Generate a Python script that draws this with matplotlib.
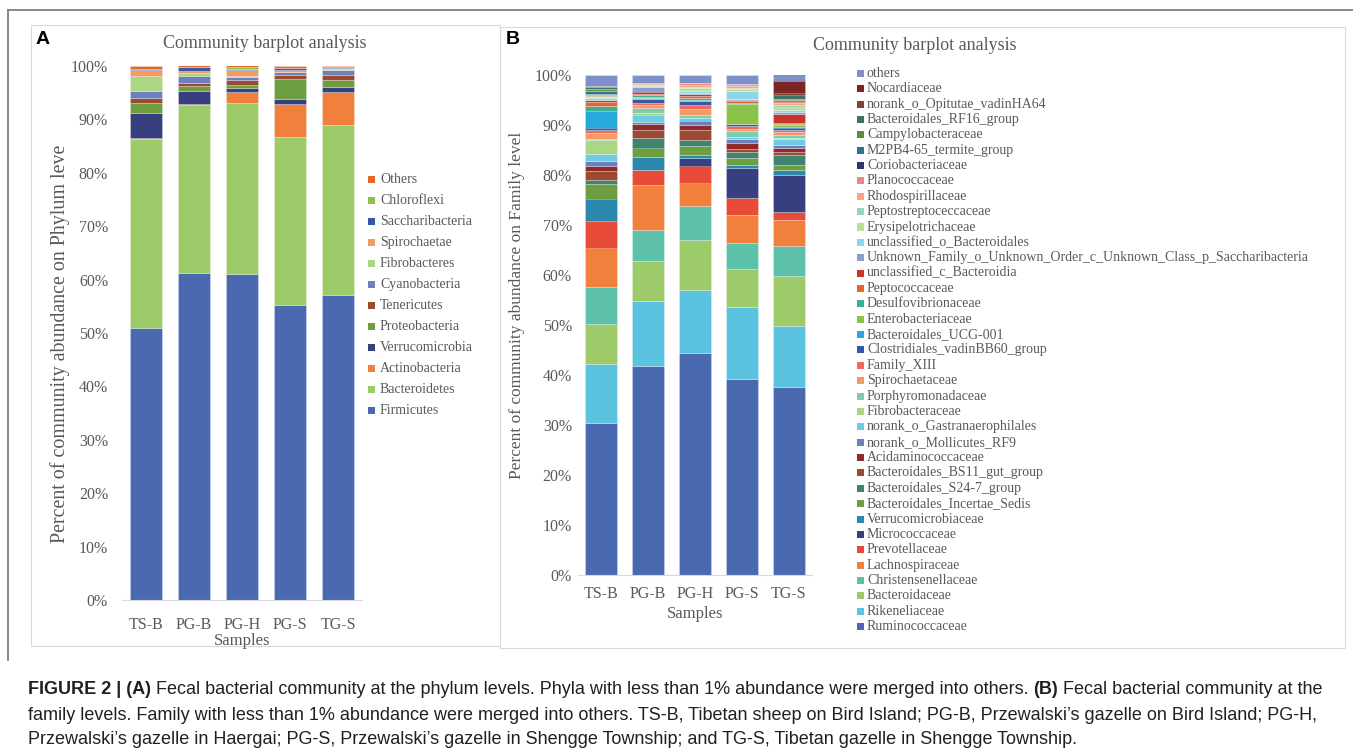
import numpy as np
import matplotlib
matplotlib.use("Agg")
import matplotlib.pyplot as plt
from matplotlib.patches import Rectangle
from matplotlib.lines import Line2D

plt.rcParams['font.family'] = ['Liberation Serif', 'DejaVu Serif']

samples = ["TS-B", "PG-B", "PG-H", "PG-S", "TG-S"]

# panel A: phylum level, bottom -> top
phyla = ["Firmicutes", "Bacteroidetes", "Actinobacteria", "Verrucomicrobia", "Proteobacteria",
         "Tenericutes", "Cyanobacteria", "Fibrobacteres", "Spirochaetae", "Saccharibacteria",
         "Chloroflexi", "Others"]
phyla_colors = ["#4A69B0", "#9DCB6A", "#F2803D", "#373F7E", "#6D9F41", "#9B4A32",
                "#6D80BE", "#ABD683", "#F59A62", "#3857A8", "#8BC34A", "#E2672A"]
a_ts_b = [50.9, 35.4, 0.2, 4.7, 1.9, 1.0, 1.2, 2.9, 1.0, 0.3, 0.0, 0.5]
a_pg_b = [61.3, 31.4, 0.1, 2.5, 0.9, 0.6, 1.4, 0.4, 0.4, 0.8, 0.0, 0.3]
a_pg_h = [61.1, 32.0, 2.0, 0.7, 0.6, 1.0, 0.5, 0.2, 1.1, 0.3, 0.4, 0.2]
a_pg_s = [55.3, 31.4, 6.2, 1.0, 3.7, 0.8, 0.4, 0.1, 0.4, 0.4, 0.0, 0.3]
a_tg_s = [57.2, 31.8, 6.1, 0.9, 1.3, 1.0, 0.9, 0.3, 0.2, 0.2, 0.0, 0.1]

# panel B: family level, bottom -> top
families = ["Ruminococcaceae", "Rikeneliaceae", "Bacteroidaceae", "Christensenellaceae",
            "Lachnospiraceae", "Prevotellaceae", "Micrococcaceae", "Verrucomicrobiaceae",
            "Bacteroidales_Incertae_Sedis", "Bacteroidales_S24-7_group",
            "Bacteroidales_BS11_gut_group", "Acidaminococcaceae", "norank_o_Mollicutes_RF9",
            "norank_o_Gastranaerophilales", "Fibrobacteraceae", "Porphyromonadaceae",
            "Spirochaetaceae", "Family_XIII", "Clostridiales_vadinBB60_group",
            "Bacteroidales_UCG-001", "Enterobacteriaceae", "Desulfovibrionaceae",
            "Peptococcaceae", "unclassified_c_Bacteroidia",
            "Unknown_Family_o_Unknown_Order_c_Unknown_Class_p_Saccharibacteria",
            "unclassified_o_Bacteroidales", "Erysipelotrichaceae", "Peptostreptoceccaceae",
            "Rhodospirillaceae", "Planococcaceae", "Coriobacteriaceae", "M2PB4-65_termite_group",
            "Campylobacteraceae", "Bacteroidales_RF16_group", "norank_o_Opitutae_vadinHA64",
            "Nocardiaceae", "others"]
family_colors = ["#4A69B0", "#5BC2E0", "#9DCB6A", "#5DC0A8", "#F2803D", "#E84B37", "#373F7E",
                 "#2A87AE", "#6D9F41", "#3E8470", "#9B4A32", "#8F2A2A", "#6D80BE", "#6FCCE4",
                 "#ABD683", "#7FCCB5", "#F59A62", "#EE6B5E", "#3857A8", "#27A9DB", "#8BC34A",
                 "#3DAE91", "#E2672A", "#C9352B", "#8A9ED0", "#8BD6EB", "#BCDF98", "#95D5C3",
                 "#F7A77D", "#EB877E", "#2D3570", "#2B7592", "#5E8C3B", "#3B7461", "#83432D",
                 "#7A2424", "#7F8FC9"]
b_ts_b = [30.5, 11.8, 8.0, 7.3, 7.9, 5.4, 0.0, 4.4, 3.0, 0.8, 1.7, 1.1, 1.0, 1.3, 2.8, 0.3,
          1.2, 0.6, 0.4, 3.4, 0.0, 0.9, 0.8, 0.4, 0.1, 0.3, 0.3, 0.2, 0.2, 0.1, 0.1, 0.5,
          0.4, 0.5, 0.1, 0.0, 2.2]
b_pg_b = [41.8, 13.1, 8.0, 6.2, 8.9, 3.1, 0.0, 2.5, 1.9, 1.9, 1.7, 1.1, 0.5, 1.4, 0.3, 1.1,
          0.5, 0.5, 0.8, 0.1, 0.2, 0.4, 0.3, 0.4, 0.9, 0.2, 0.2, 0.2, 0.1, 0.1, 0.0, 0.0,
          0.0, 0.0, 0.0, 0.0, 1.6]
b_pg_h = [44.5, 12.6, 10.0, 6.8, 4.6, 3.4, 1.6, 0.6, 1.7, 1.3, 1.9, 1.0, 0.9, 0.5, 0.1, 0.6,
          1.1, 0.9, 0.8, 0.1, 0.1, 0.3, 0.5, 0.3, 0.2, 0.5, 0.5, 0.3, 0.3, 0.4, 0.0, 0.0,
          0.0, 0.0, 0.0, 0.0, 1.7]
b_pg_s = [39.3, 14.4, 7.6, 5.2, 5.5, 3.5, 5.9, 0.7, 1.3, 1.3, 0.5, 1.3, 0.7, 0.5, 0.0, 1.1,
          0.5, 0.5, 0.5, 0.0, 3.9, 0.2, 0.4, 0.2, 0.2, 1.5, 0.5, 0.2, 0.3, 0.3, 0.1, 0.1,
          0.0, 0.0, 0.0, 0.0, 1.8]
b_tg_s = [37.7, 12.2, 10.0, 6.0, 5.1, 1.6, 7.5, 0.9, 1.1, 2.0, 0.5, 0.8, 0.7, 1.1, 0.2, 0.7,
          0.5, 0.5, 0.4, 0.1, 0.4, 0.2, 0.3, 1.7, 0.5, 0.3, 0.7, 0.3, 0.5, 0.4, 0.1, 0.1,
          0.1, 0.9, 0.4, 2.4, 1.2]

W, H = 1353, 755
GRAY = "#595959"


def fx(x):
    return x / W


def fy(y):
    return 1 - y / H


def stacked(ax, cols, names, colors, width):
    data = np.array(cols).T  # rows = taxa
    bottom = np.zeros(len(samples))
    x = np.arange(len(samples))
    for vals, name, c in zip(data, names, colors):
        ax.bar(x, vals, width, bottom=bottom, color=c, label=name,
               edgecolor=(1, 1, 1, 0.45), linewidth=0.4)
        bottom += vals
    ax.set_xlim(-0.5, len(samples) - 0.5)
    ax.set_ylim(0, 100)
    ax.set_xticks(x)
    ax.set_xticklabels(samples, fontsize=11.5, color=GRAY)
    ax.set_yticks(np.arange(0, 101, 10))
    ax.set_yticklabels([f"{v}%" for v in range(0, 101, 10)], fontsize=11.5, color=GRAY)
    for s in ["top", "right", "left"]:
        ax.spines[s].set_visible(False)
    ax.spines["bottom"].set_color("#D9D9D9")
    ax.tick_params(length=0)


def legend(fig, names, colors, x_sq, x_txt, y_top, pitch, sq, fs):
    for i, (name, c) in enumerate(zip(names[::-1], colors[::-1])):
        yc = y_top + i * pitch
        fig.add_artist(Rectangle((fx(x_sq), fy(yc + sq / 2)), sq / W, sq / H,
                                 transform=fig.transFigure, color=c, lw=0))
        fig.text(fx(x_txt), fy(yc), name, fontsize=fs, color=GRAY, va="center", ha="left")


fig = plt.figure(figsize=(W / 100, H / 100), dpi=100)

# outer frame lines and panel boxes
fig.add_artist(Line2D([fx(8), fx(1353)], [fy(10), fy(10)], color="#808080", lw=1.3,
                      transform=fig.transFigure))
fig.add_artist(Line2D([fx(8), fx(8)], [fy(10), fy(660)], color="#808080", lw=1.3,
                      transform=fig.transFigure))
fig.add_artist(Rectangle((fx(31), fy(646)), (500 - 31) / W, (646 - 25) / H, fill=False,
                         ec="#D9D9D9", lw=0.8, transform=fig.transFigure))
fig.add_artist(Rectangle((fx(500), fy(648)), (1345 - 500) / W, (648 - 27) / H, fill=False,
                         ec="#D9D9D9", lw=0.8, transform=fig.transFigure))

# panel A
axA = fig.add_axes([fx(122), fy(600), (362 - 122) / W, (600 - 66) / H])
stacked(axA, [a_ts_b, a_pg_b, a_pg_h, a_pg_s, a_tg_s], phyla, phyla_colors, 0.667)
axA.tick_params(axis="x", pad=12)
axA.tick_params(axis="y", pad=10)
fig.text(fx(242), fy(641), "Samples", fontsize=12, color=GRAY, ha="center", va="center")
fig.text(fx(60), fy(344), "Percent of community abundance on Phylum leve", fontsize=14.4,
         color=GRAY, rotation=90, ha="center", va="center")
fig.text(fx(265), fy(44), "Community barplot analysis", fontsize=13, color=GRAY,
         ha="center", va="center")
legend(fig, phyla, phyla_colors, 368, 380, 179.3, 21.04, 7, 10)
fig.text(fx(36), fy(40), "A", fontsize=14, fontweight="bold", family="Liberation Sans",
         ha="left", va="center")

# panel B
axB = fig.add_axes([fx(577.5), fy(575), 235 / W, 500 / H])
stacked(axB, [b_ts_b, b_pg_b, b_pg_h, b_pg_s, b_tg_s], families, family_colors, 0.68)
axB.tick_params(axis="x", pad=8)
axB.tick_params(axis="y", pad=4)
fig.text(fx(695), fy(614), "Samples", fontsize=12, color=GRAY, ha="center", va="center")
fig.text(fx(517), fy(305), "Percent of community abundance on Family level", fontsize=12.5,
         color=GRAY, rotation=90, ha="center", va="center")
fig.text(fx(915), fy(45), "Community barplot analysis", fontsize=13, color=GRAY,
         ha="center", va="center")
legend(fig, families, family_colors, 857, 867, 73.3, 15.37, 7, 10)
fig.text(fx(506), fy(40), "B", fontsize=14, fontweight="bold", family="Liberation Sans",
         ha="left", va="center")

# caption with mixed weights
cap = fig.add_axes([0, 0, 1, 1])
cap.axis("off")
lines = [
    [("FIGURE 2 | (A)", "bold"),
     (" Fecal bacterial community at the phylum levels. Phyla with less than 1% abundance were merged into others. ", "normal"),
     ("(B)", "bold"), (" Fecal bacterial community at the", "normal")],
    [("family levels. Family with less than 1% abundance were merged into others. TS-B, Tibetan sheep on Bird Island; PG-B, Przewalski\u2019s gazelle on Bird Island; PG-H,", "normal")],
    [("Przewalski\u2019s gazelle in Haergai; PG-S, Przewalski\u2019s gazelle in Shengge Township; and TG-S, Tibetan gazelle in Shengge Township.", "normal")],
]
for y, segs in zip([690, 715, 739], lines):
    prev = None
    for txt, wt in segs:
        kw = dict(fontsize=13.0, fontweight=wt, family="Liberation Sans", color="#231F20")
        if prev is None:
            prev = cap.text(fx(28), fy(y), txt, transform=fig.transFigure, ha="left",
                            va="center", **kw)
        else:
            prev = cap.annotate(txt, xy=(1, 0), xycoords=prev, ha="left", va="bottom", **kw)

fig.savefig("out.png", dpi=100)
